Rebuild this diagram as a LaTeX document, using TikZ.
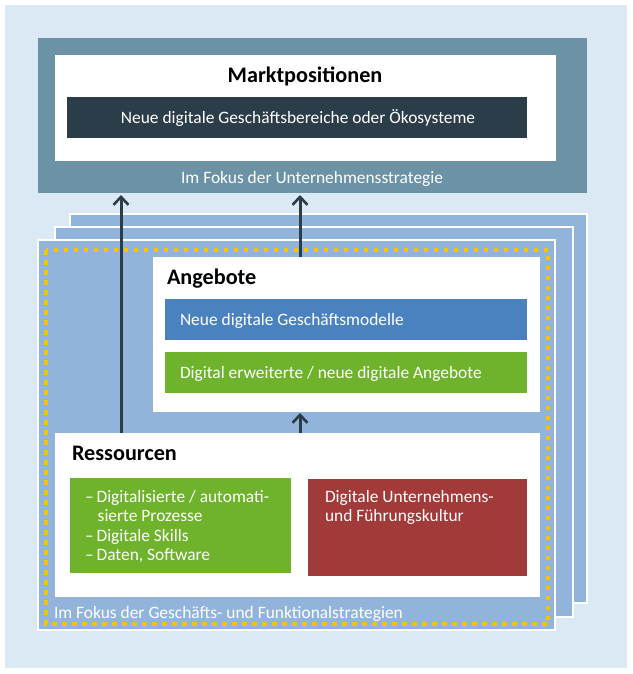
\documentclass[tikz,border=0pt]{standalone}
\usepackage{fontspec}
\setmainfont{Carlito}
\usetikzlibrary{arrows.meta}
\definecolor{bglight}{HTML}{DAE9F3}
\definecolor{slate}{HTML}{6B93A5}
\definecolor{darkbox}{HTML}{2B3D48}
\definecolor{stackblue}{HTML}{92B4DA}
\definecolor{midblue}{HTML}{4A82C0}
\definecolor{leafgreen}{HTML}{6FB22C}
\definecolor{brickred}{HTML}{A33A3A}
\definecolor{dotyellow}{HTML}{F5C400}
\tikzset{
  box/.style={rectangle, inner sep=0pt, outer sep=0pt},
  stackbox/.style={box, fill=stackblue, draw=white, line width=2pt},
  txt/.style={inner sep=0pt, outer sep=0pt, font=\fontsize{17.4}{20}\selectfont},
  ttl/.style={inner sep=0pt, outer sep=0pt, font=\fontsize{22.2}{25}\selectfont\bfseries},
  arr/.style={draw=darkbox, line width=3pt, -{Straight Barb[length=8pt,width=15pt,line width=2.6pt]}},
}
\begin{document}
\begin{tikzpicture}[x=1pt,y=-1pt]
\useasboundingbox (0,0) rectangle (632,674);
\fill[bglight] (5,5) rectangle (627,668);
% top block
\node[box, fill=slate, minimum width=549pt, minimum height=155pt] (top) at (312.5,115.5) {};
\node[box, fill=white, minimum width=501pt, minimum height=106pt] (mwhite) at (305.5,108) {};
\node[ttl, anchor=base] (mtitle) at (305,83) {Marktpositionen};
\node[box, fill=darkbox, minimum width=460pt, minimum height=41pt] (mdark) at (297,117.5) {};
\node[txt, text=white, anchor=base] (mdtext) at (298,123.5) {Neue digitale Geschäftsbereiche oder Ökosysteme};
\node[txt, text=white, anchor=base] (mfocus) at (312,183.5) {Im Fokus der Unternehmensstrategie};
% stacked
\node[stackbox, minimum width=517pt, minimum height=389pt] (back) at (328.5,408.5) {};
\node[stackbox, minimum width=518pt, minimum height=390pt] (mid) at (314,422) {};
\node[stackbox, minimum width=517pt, minimum height=390pt] (front) at (296.5,435) {};
\draw[dotyellow, line width=4.5pt, dash pattern=on 4.5pt off 5.5pt] (46,250) rectangle (548,624);
% Angebote
\node[box, fill=white, minimum width=387pt, minimum height=155pt] (ang) at (346.5,334.5) {};
\node[ttl, anchor=base west] (atitle) at (167,284) {Angebote};
\node[box, fill=midblue, minimum width=362pt, minimum height=41pt] (ablue) at (346,319.5) {};
\node[txt, text=white, anchor=base west] (abtext) at (180,325.5) {Neue digitale Geschäftsmodelle};
\node[box, fill=leafgreen, minimum width=362pt, minimum height=41pt] (agreen) at (346,372.5) {};
\node[txt, text=white, anchor=base west] (agtext) at (180,378.5) {Digital erweiterte / neue digitale Angebote};
% Ressourcen
\node[box, fill=white, minimum width=485pt, minimum height=164pt] (ress) at (297.5,515) {};
\node[ttl, anchor=base west] (rtitle) at (72,460) {Ressourcen};
\node[box, fill=leafgreen, minimum width=221pt, minimum height=95pt] (rgreen) at (180.5,525.5) {};
\node[box, fill=brickred, minimum width=219pt, minimum height=97pt] (rred) at (417.5,527.5) {};
\node[txt, text=white, anchor=base west] (rg1) at (85,502.7) {–\,Digitalisierte / automati-};
\node[txt, text=white, anchor=base west] (rg2) at (97.7,521.7) {sierte Prozesse};
\node[txt, text=white, anchor=base west] (rg3) at (85,541.7) {–\,Digitale Skills};
\node[txt, text=white, anchor=base west] (rg4) at (85,560.7) {–\,Daten, Software};
\node[txt, text=white, anchor=base west] (rr1) at (325,502.7) {Digitale Unternehmens-};
\node[txt, text=white, anchor=base west] (rr2) at (325,521.7) {und Führungskultur};
\node[txt, text=white, anchor=base west] (ffocus) at (54,618) {Im Fokus der Geschäfts- und Funktionalstrategien};
% arrows
\coordinate (a1) at (121,0);
\coordinate (a2) at (300,0);
\draw[arr, shorten >=2pt] (a1 |- ress.north) -- (a1 |- top.south);
\draw[arr, shorten >=2pt] (a2 |- ang.north) -- (a2 |- top.south);
\draw[arr, shorten >=1pt] (a2 |- ress.north) -- (a2 |- ang.south);
\end{tikzpicture}
\end{document}
